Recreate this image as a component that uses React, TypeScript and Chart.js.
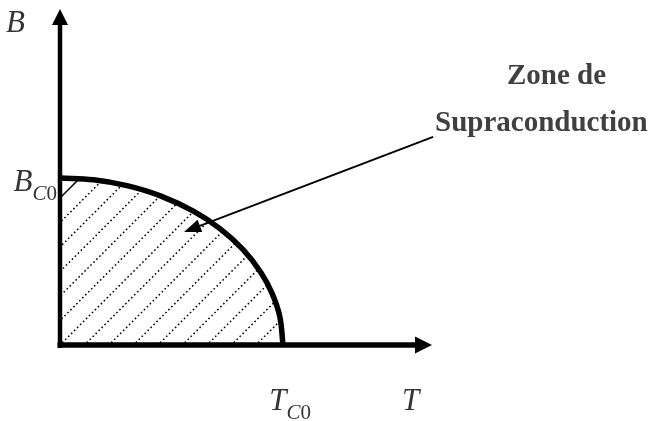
import React, { useEffect, useRef } from "react";
import { Chart, registerables } from "chart.js";

Chart.register(...registerables);

// Reduced temperature T/Tc0 and critical field B/Bc0 along the phase boundary
const temperature = [0, 0.15, 0.3, 0.45, 0.6, 0.72, 0.82, 0.9, 0.95, 0.985, 1];
const criticalField = [1, 0.989, 0.954, 0.893, 0.8, 0.694, 0.572, 0.436, 0.312, 0.173, 0];

// Axis extents (arrow tips) in reduced units
const T_MAX = 1.668;
const B_MAX = 2.012;

// Axis names and the marked critical values
const axisNameT = "T";
const axisNameB = "B";
const tickT = { main: "T", sub: "C0", value: 1 };
const tickB = { main: "B", sub: "C0", value: 1 };

// Region label and the arrow pointing into the region (reduced units)
const zoneLines = ["Zone de", "Supraconduction"];
const arrowFrom = { t: 1.673, b: 1.246 };
const arrowTo = { t: 0.556, b: 0.677 };

const TEXT_COLOR = "#353535";
const SERIF = "'Liberation Serif', 'Times New Roman', serif";
const ITALIC_MAIN = `italic 31px ${SERIF}`;
const ITALIC_SUB = `italic 21px ${SERIF}`;
const ROMAN_SUB = `21px ${SERIF}`;
const BOLD_LABEL = `bold 29px ${SERIF}`;

function arrowHead(ctx: CanvasRenderingContext2D, tipX: number, tipY: number, angle: number, len: number, half: number) {
  ctx.save();
  ctx.translate(tipX, tipY);
  ctx.rotate(angle);
  ctx.beginPath();
  ctx.moveTo(0, 0);
  ctx.lineTo(-len, -half);
  ctx.lineTo(-len, half);
  ctx.closePath();
  ctx.fill();
  ctx.restore();
}

// Subscript: letters in italic, digits upright
function subParts(sub: string) {
  return sub.split("").map((ch) => ({ ch, font: /[0-9]/.test(ch) ? ROMAN_SUB : ITALIC_SUB }));
}

function measureSub(ctx: CanvasRenderingContext2D, sub: string) {
  let w = 0;
  for (const p of subParts(sub)) {
    ctx.font = p.font;
    w += ctx.measureText(p.ch).width;
  }
  return w;
}

function drawSub(ctx: CanvasRenderingContext2D, sub: string, x: number, y: number) {
  let cx = x;
  for (const p of subParts(sub)) {
    ctx.font = p.font;
    ctx.fillText(p.ch, cx, y);
    cx += ctx.measureText(p.ch).width;
  }
}

const phasePlugin = {
  id: "phaseDiagram",
  beforeDatasetsDraw(chart: any) {
    const { ctx, chartArea, scales } = chart;
    const xs = scales.x;
    const ys = scales.y;
    const x0 = xs.getPixelForValue(0);
    const y0 = ys.getPixelForValue(0);
    const pts = chart.getDatasetMeta(0).data;

    // Hatching of the superconducting region, clipped to the boundary curve
    ctx.save();
    ctx.beginPath();
    ctx.moveTo(x0, y0);
    ctx.lineTo(pts[0].x, pts[0].y);
    for (let i = 1; i < pts.length; i++) {
      const p = pts[i - 1];
      const c = pts[i];
      ctx.bezierCurveTo(p.cp2x, p.cp2y, c.cp1x, c.cp1y, c.x, c.y);
    }
    ctx.closePath();
    ctx.clip();
    ctx.strokeStyle = "#000";
    ctx.lineWidth = 1.5;
    const step = 24.5;
    let first = true;
    for (let c = 258; c < x0 + y0 + 400; c += step) {
      ctx.beginPath();
      ctx.setLineDash(first ? [] : [1.6, 2.6]);
      ctx.moveTo(c - 420, 420);
      ctx.lineTo(c, 0);
      ctx.stroke();
      first = false;
    }
    ctx.restore();

    // Axes with arrow heads
    ctx.save();
    ctx.strokeStyle = "#000";
    ctx.fillStyle = "#000";
    ctx.lineWidth = 4.5;
    ctx.beginPath();
    ctx.moveTo(x0, y0 + 3);
    ctx.lineTo(x0, chartArea.top + 12);
    ctx.stroke();
    arrowHead(ctx, x0, chartArea.top, -Math.PI / 2, 16, 8);

    ctx.lineWidth = 5.5;
    ctx.beginPath();
    ctx.moveTo(x0 - 2.5, y0);
    ctx.lineTo(chartArea.right - 12, y0);
    ctx.stroke();
    arrowHead(ctx, chartArea.right, y0, 0, 17, 8.5);
    ctx.restore();
  },
  afterDatasetsDraw(chart: any) {
    const { ctx, chartArea, scales } = chart;
    const xs = scales.x;
    const ys = scales.y;
    const x0 = xs.getPixelForValue(0);
    const y0 = ys.getPixelForValue(0);

    ctx.save();
    ctx.fillStyle = TEXT_COLOR;
    ctx.textBaseline = "alphabetic";
    ctx.textAlign = "left";

    // Axis names
    ctx.font = ITALIC_MAIN;
    ctx.fillText(axisNameB, 6, chartArea.top + 23);
    ctx.fillText(axisNameT, chartArea.right - 30, y0 + 65);

    // Critical temperature on the T axis
    const tx = xs.getPixelForValue(tickT.value);
    ctx.font = ITALIC_MAIN;
    const wT = ctx.measureText(tickT.main).width;
    const wTs = measureSub(ctx, tickT.sub);
    const startT = tx + 7 - (wT + wTs) / 2;
    ctx.font = ITALIC_MAIN;
    ctx.fillText(tickT.main, startT, y0 + 65);
    drawSub(ctx, tickT.sub, startT + wT, y0 + 74);

    // Critical field on the B axis
    const by = ys.getPixelForValue(tickB.value);
    ctx.font = ITALIC_MAIN;
    const wB = ctx.measureText(tickB.main).width;
    const wBs = measureSub(ctx, tickB.sub);
    const endB = x0 - 3;
    const startB = endB - wBs - wB;
    ctx.font = ITALIC_MAIN;
    ctx.fillText(tickB.main, startB, by + 13);
    drawSub(ctx, tickB.sub, startB + wB, by + 22);

    // Region label
    ctx.fillStyle = "#404040";
    ctx.font = BOLD_LABEL;
    ctx.fillText(zoneLines[0], 507, 84);
    ctx.fillText(zoneLines[1], 435, 131);

    // Pointer arrow into the region
    const ax1 = xs.getPixelForValue(arrowFrom.t);
    const ay1 = ys.getPixelForValue(arrowFrom.b);
    const ax2 = xs.getPixelForValue(arrowTo.t);
    const ay2 = ys.getPixelForValue(arrowTo.b);
    const ang = Math.atan2(ay2 - ay1, ax2 - ax1);
    ctx.strokeStyle = "#000";
    ctx.fillStyle = "#000";
    ctx.lineWidth = 2;
    ctx.beginPath();
    ctx.moveTo(ax1, ay1);
    ctx.lineTo(ax2 - Math.cos(ang) * 12, ay2 - Math.sin(ang) * 12);
    ctx.stroke();
    arrowHead(ctx, ax2, ay2, ang, 17, 6.5);
    ctx.restore();
  },
};

export default function App() {
  const canvasRef = useRef<HTMLCanvasElement | null>(null);

  useEffect(() => {
    const canvas = canvasRef.current;
    if (!canvas) return;
    const points = temperature.map((t, i) => ({ x: t, y: criticalField[i] }));
    const chart = new Chart(canvas, {
      type: "line",
      data: {
        datasets: [
          {
            data: points,
            borderColor: "#000",
            borderWidth: 5.5,
            pointRadius: 0,
            tension: 0.4,
            fill: false,
          },
        ],
      },
      options: {
        responsive: false,
        animation: false,
        devicePixelRatio: 1,
        layout: { padding: { left: 60, right: 220, top: 9, bottom: 76 } },
        plugins: { legend: { display: false }, tooltip: { enabled: false } },
        scales: {
          x: { type: "linear", min: 0, max: T_MAX, display: false },
          y: { type: "linear", min: 0, max: B_MAX, display: false },
        },
      },
      plugins: [phasePlugin],
    });
    return () => chart.destroy();
  }, []);

  return (
    <div style={{ position: "absolute", left: 0, top: 0, width: 652, height: 421, background: "#fff" }}>
      <canvas ref={canvasRef} width={652} height={421} />
    </div>
  );
}
